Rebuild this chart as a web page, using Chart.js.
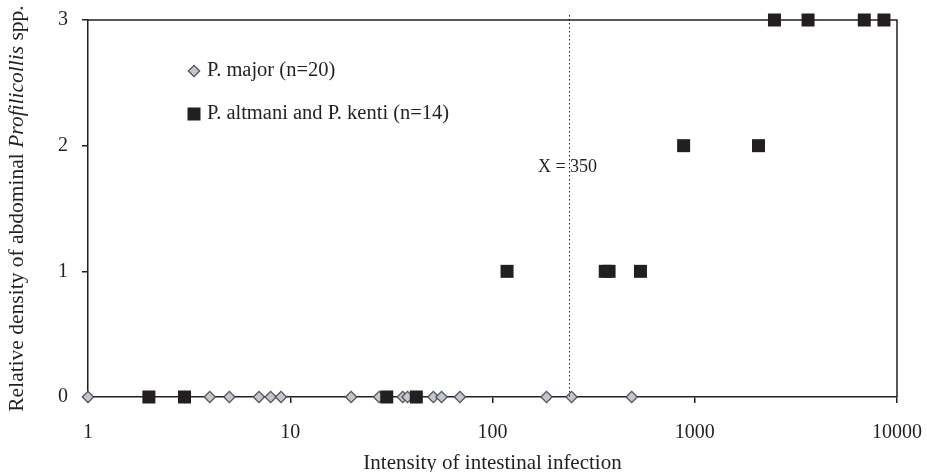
<!DOCTYPE html>
<html><head><meta charset="utf-8">
<script src="https://cdn.jsdelivr.net/npm/chart.js@4/dist/chart.umd.min.js"></script>
<style>html,body{margin:0;padding:0;background:#fff}#wrap{width:927px;height:472px;position:relative}</style>
</head><body><div id="wrap"><canvas id="c" width="927" height="472"></canvas></div>
<script>
// ---- data ----
const xTickValues = [1, 10, 100, 1000, 10000];
const yTickValues = [0, 1, 2, 3];
const majorIntensity = [1, 2, 3, 4, 5, 7, 8, 9, 20, 27.5, 30, 36, 38, 42, 51, 56, 69, 185, 246, 488];
const majorDensity   = [0, 0, 0, 0, 0, 0, 0, 0, 0, 0, 0, 0, 0, 0, 0, 0, 0, 0, 0, 0];
const altIntensity = [2, 3, 30, 42, 118, 361, 377, 539, 881, 2066, 2478, 3633, 6890, 8618];
const altDensity   = [0, 0, 0, 0, 1, 1, 1, 1, 2, 2, 3, 3, 3, 3];
const seriesNames = ['P. major (n=20)', 'P. altmani and P. kenti (n=14)'];
const cutoffIntensity = 240;
const cutoffLabel = 'X = 350';
const xTitle = 'Intensity of intestinal infection';
const yTitleParts = ['Relative density of abdominal ', 'Profilicollis', ' spp.'];

// ---- styles ----
const INK = '#231f20';
const SERIF = "'Liberation Serif', 'Times New Roman', serif";
const diamondStyle = {pointStyle: 'rectRot', radius: 5.6, backgroundColor: '#c3c6cc', borderColor: '#4f5257', borderWidth: 1.3};
const squareStyle = {pointStyle: 'rect', radius: 9.2, backgroundColor: INK, borderColor: INK, borderWidth: 0};

const toPoints = (xs, ys) => xs.map((x, i) => ({x: x, y: ys[i]}));

const overlay = {
  id: 'overlay',
  afterDraw(chart) {
    const ctx = chart.ctx;
    const a = chart.chartArea;
    const xs = chart.scales.x, ys = chart.scales.y;
    ctx.save();
    // top & right frame
    ctx.strokeStyle = INK; ctx.lineWidth = 1.5;
    ctx.beginPath();
    ctx.moveTo(a.left, a.top); ctx.lineTo(a.right, a.top); ctx.lineTo(a.right, a.bottom);
    ctx.stroke();
    // cutoff dotted line
    const cx = Math.round(xs.getPixelForValue(cutoffIntensity)) + 0.5;
    ctx.lineWidth = 1; ctx.setLineDash([1.5, 2.5]);
    ctx.beginPath(); ctx.moveTo(cx, a.top - 5); ctx.lineTo(cx, a.bottom); ctx.stroke();
    ctx.setLineDash([]);
    // cutoff label
    ctx.fillStyle = INK;
    ctx.font = '18px ' + SERIF;
    ctx.textAlign = 'center'; ctx.textBaseline = 'middle';
    ctx.fillText(cutoffLabel, cx - 2, ys.getPixelForValue(1.83));
    // legend
    const styles = [diamondStyle, squareStyle];
    const lx = a.left + 106, ty = a.top + 51, rowGap = 43;
    ctx.textAlign = 'left';
    seriesNames.forEach((name, i) => {
      const st = styles[i];
      const y = ty + i * rowGap;
      ctx.fillStyle = st.backgroundColor; ctx.strokeStyle = st.borderColor; ctx.lineWidth = st.borderWidth;
      Chart.helpers.drawPoint(ctx, {pointStyle: st.pointStyle, radius: st.radius, borderWidth: st.borderWidth, rotation: 0}, lx, y);
      ctx.fillStyle = INK;
      ctx.font = '20.5px ' + SERIF;
      ctx.fillText(name, lx + 13, y);
    });
    // y title with italic genus
    const fonts = ['21.5px ' + SERIF, 'italic 21.5px ' + SERIF, '21.5px ' + SERIF];
    const widths = yTitleParts.map((t, i) => { ctx.font = fonts[i]; return ctx.measureText(t).width; });
    const total = widths.reduce((s, w) => s + w, 0);
    ctx.translate(17, (a.top + a.bottom) / 2);
    ctx.rotate(-Math.PI / 2);
    let px = -total / 2;
    yTitleParts.forEach((t, i) => { ctx.font = fonts[i]; ctx.fillText(t, px, 0); px += widths[i]; });
    ctx.restore();
  }
};

new Chart(document.getElementById('c'), {
  type: 'scatter',
  data: {
    datasets: [
      Object.assign({label: seriesNames[1], data: toPoints(altIntensity, altDensity), order: 0, clip: false}, squareStyle,
        {pointRadius: squareStyle.radius, pointHoverRadius: squareStyle.radius}),
      Object.assign({label: seriesNames[0], data: toPoints(majorIntensity, majorDensity), order: 1, clip: false}, diamondStyle,
        {pointRadius: diamondStyle.radius, pointHoverRadius: diamondStyle.radius})
    ]
  },
  options: {
    responsive: false, animation: false, devicePixelRatio: 1,
    layout: {padding: {left: 0, right: 30, top: 20, bottom: 0}},
    plugins: {legend: {display: false}, tooltip: {enabled: false}},
    scales: {
      x: {
        type: 'logarithmic', min: 1, max: 10000,
        afterBuildTicks: s => { s.ticks = xTickValues.map(v => ({value: v})); },
        afterFit: s => { s.height = 75; s.paddingLeft = 0; s.paddingRight = 0; },
        ticks: {callback: v => String(v), color: INK, font: {family: SERIF, size: 20}, padding: 18, autoSkip: false, maxRotation: 0},
        grid: {drawOnChartArea: false, drawTicks: true, tickLength: 6, color: INK, lineWidth: 1.5},
        border: {color: INK, width: 1.5},
        title: {display: true, text: xTitle, color: INK, font: {family: SERIF, size: 21, lineHeight: 0.85}, padding: 0}
      },
      y: {
        type: 'linear', min: 0, max: 3,
        afterBuildTicks: s => { s.ticks = yTickValues.map(v => ({value: v})); },
        afterFit: s => { s.width = 88; s.paddingTop = 0; s.paddingBottom = 0; },
        ticks: {color: INK, font: {family: SERIF, size: 20}, padding: 14},
        grid: {drawOnChartArea: false, drawTicks: true, tickLength: 6, color: INK, lineWidth: 1.5},
        border: {color: INK, width: 1.5},
        title: {display: false}
      }
    }
  },
  plugins: [overlay]
});
</script></body></html>
